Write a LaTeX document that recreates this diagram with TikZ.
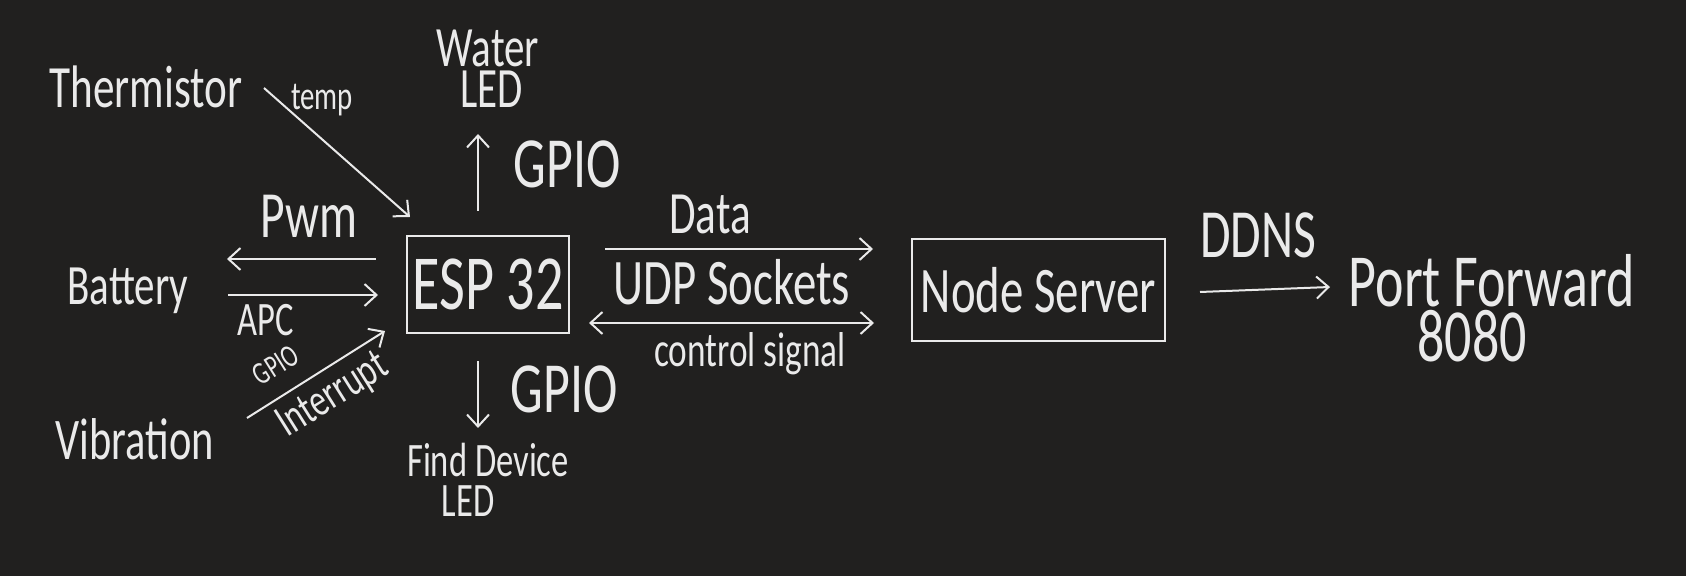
\documentclass[tikz,border=0pt]{standalone}
\usepackage{fontspec}
\setmainfont[FakeStretch=0.72]{Carlito}
\usetikzlibrary{arrows.meta}
\definecolor{board}{HTML}{21201F}
\definecolor{chalk}{HTML}{EAEAEA}
\newcommand{\hsz}[1]{\fontsize{#1}{#1}\selectfont}

\begin{document}
\begin{tikzpicture}[x=0.5pt,y=-0.5pt,
  lbl/.style={text=chalk,inner sep=0pt,anchor=base},
  blk/.style={draw=chalk,line width=1pt,text=chalk,inner sep=0pt},
  wire/.style={draw=chalk,line width=1pt,-{Straight Barb[length=6pt,width=11pt]}},
  twoway/.style={draw=chalk,line width=1pt,{Straight Barb[length=6pt,width=11pt]}-{Straight Barb[length=6pt,width=11pt]}}]
\fill[board] (0,0) rectangle (1686,576);

% blocks
\node[blk,minimum width=81pt,minimum height=48.5pt,font=\hsz{39}] (esp) at (488,284.5) {ESP 32};
\node[blk,minimum width=126.5pt,minimum height=51pt,font=\hsz{32.5}] (srv) at (1038.5,290) {Node Server};

% parts round the board
\node[lbl,font=\hsz{30}] (therm) at (146,108) {Thermistor};
\node[lbl,font=\hsz{28.5}] (bat) at (128,305) {Battery};
\node[lbl,font=\hsz{29.5}] (vib) at (135,460) {Vibration};
\node[lbl,font=\hsz{28.5}] (water) at (488,67) {Water};
\node[lbl,font=\hsz{28.5}] (wled) at (492,108) {LED};
\node[lbl,font=\hsz{24}] (find) at (488,477) {Find Device};
\node[lbl,font=\hsz{24}] (fled) at (468,517) {LED};
\node[lbl,font=\hsz{37.5}] (port) at (1492,307) {Port Forward};
\node[lbl,font=\hsz{37.5}] (num) at (1472,362) {8080};

% link labels
\node[lbl,font=\hsz{20}] (ltemp) at (322,110) {temp};
\node[lbl,font=\hsz{33}] (lpwm) at (309,238) {Pwm};
\node[lbl,font=\hsz{24}] (ladc) at (266,336) {APC};
\node[lbl,font=\hsz{36}] (lup) at (567,188) {GPIO};
\node[lbl,font=\hsz{36}] (ldown) at (564,413) {GPIO};
\node[lbl,font=\hsz{30}] (ldata) at (710,234) {Data};
\node[lbl,font=\hsz{32.5}] (ludp) at (732,305) {UDP Sockets};
\node[lbl,font=\hsz{24.5}] (lctl) at (750,367) {control signal};
\node[lbl,font=\hsz{34.5}] (lddns) at (1258,258) {DDNS};

\draw[wire] ([shift={(118,-20)}]therm.base) -- ([shift={(4,-18)}]esp.north west);
\draw[wire] ([shift={(-10,-24)}]esp.north) -- ([shift={(-14,26)}]wled.base);
\draw[wire] ([shift={(-30,-25.5)}]esp.west) -- ([shift={(99,-46)}]bat.base);
\draw[wire] ([shift={(100,-10)}]bat.base) -- ([shift={(-28,10.5)}]esp.west);
\draw[wire] ([shift={(112,-42)}]vib.base) -- ([shift={(-21,-3)}]esp.south west)
  node[pos=0.32,sloped,above=8pt,inner sep=1pt,text=chalk,font=\hsz{16}] (lgpio) {GPIO}
  node[pos=0.52,sloped,below=3pt,inner sep=1pt,text=chalk,font=\hsz{23}] (lint) {Interrupt};
\draw[wire] ([shift={(-10,27)}]esp.south) -- ([shift={(-10,-49)}]find.base);
\draw[wire] ([shift={(35,-35.5)}]esp.east) -- ([shift={(-38,-41)}]srv.west);
\draw[twoway] ([shift={(19,38.5)}]esp.east) -- ([shift={(-37,33)}]srv.west);
\draw[wire] ([shift={(34,2)}]srv.east) -- ([shift={(-162,-20)}]port.base);
\end{tikzpicture}
\end{document}
